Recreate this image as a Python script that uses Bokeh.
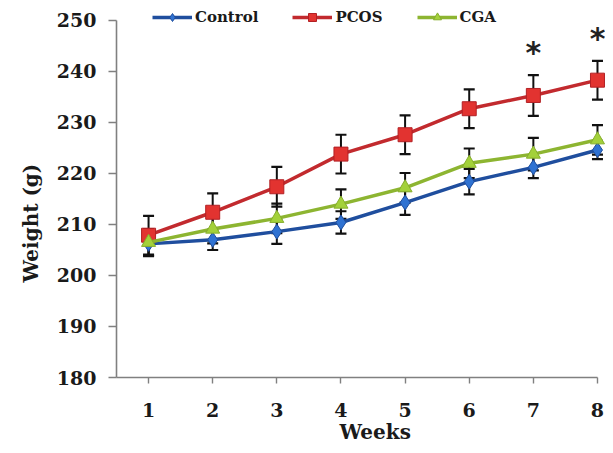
from bokeh.plotting import figure
from bokeh.models import Legend, LegendItem, Label, FixedTicker, Range1d, Title
from bokeh.embed import file_html
from bokeh.resources import INLINE

# ---- data ----
weeks = [1, 2, 3, 4, 5, 6, 7, 8]
control = [206.2, 207.0, 208.6, 210.4, 214.3, 218.4, 221.2, 224.6]
control_err = [2.4, 2.0, 2.4, 2.2, 2.4, 2.5, 2.1, 1.8]
pcos = [207.9, 212.4, 217.4, 223.8, 227.6, 232.7, 235.3, 238.3]
pcos_err = [3.8, 3.7, 3.9, 3.8, 3.8, 3.8, 4.0, 3.8]
cga = [206.5, 209.1, 211.2, 214.0, 217.2, 222.0, 223.8, 226.6]
cga_err = [2.6, 2.8, 2.9, 2.9, 2.9, 2.9, 3.2, 2.9]
star_weeks = [7, 8]
y_ticks = [180, 190, 200, 210, 220, 230, 240, 250]
legend_labels = ["Control", "PCOS", "CGA"]
x_title = "Weeks"
y_title = "Weight (g)"

SERIF = "DejaVu Serif"
TXT = "#1a1a1a"

p = figure(width=605, height=445, output_backend="svg", toolbar_location=None,
           x_range=Range1d(0.5, 8.125), y_range=Range1d(180, 252.35),
           min_border_left=116, min_border_right=0, min_border_top=8,
           min_border_bottom=68)
p.outline_line_color = None
p.grid.visible = False

# main axes
p.xaxis.ticker = FixedTicker(ticks=weeks)
p.yaxis.ticker = FixedTicker(ticks=y_ticks)
p.xaxis.bounds = (0.5, 8.0)
p.yaxis.bounds = (180, 250)
for ax in (p.xaxis, p.yaxis):
    ax.axis_line_color = "#808080"
    ax.axis_line_width = 1.6
    ax.major_tick_line_color = "#808080"
    ax.major_tick_line_width = 1.4
    ax.major_tick_in = 0
    ax.minor_tick_line_color = None
    ax.major_label_text_font = SERIF
    ax.major_label_text_font_style = "bold"
    ax.major_label_text_font_size = "19px"
    ax.major_label_text_color = TXT
p.xaxis.major_tick_out = 6
p.yaxis.major_tick_out = 8
p.xaxis.major_label_standoff = 19
p.yaxis.major_label_standoff = 12

# axis titles, positioned along the axes like the reference
p.add_layout(Title(text=x_title, align="left", offset=223, standoff=0,
                   vertical_align="top", text_font=SERIF, text_font_style="bold",
                   text_font_size="20px", text_color=TXT), "below")
p.add_layout(Title(text=y_title, align="left", offset=95, standoff=17,
                   vertical_align="top", text_font=SERIF, text_font_style="bold",
                   text_font_size="20px", text_color=TXT), "left")

series = [
    (control, control_err, "#1F4E9E", "#2F72D2", "#1F4E9E", "diamond", 15),
    (pcos, pcos_err, "#C22A2E", "#E23330", "#B22024", "square", 14),
    (cga, cga_err, "#8DB531", "#A3D13A", "#86AE2C", "triangle", 14),
]

# error bars (black) first
for vals, errs, *_ in series:
    lo = [v - e for v, e in zip(vals, errs)]
    hi = [v + e for v, e in zip(vals, errs)]
    p.segment(x0=weeks, y0=lo, x1=weeks, y1=hi, line_color="#111111", line_width=2)
    p.scatter(x=weeks, y=lo, marker="dash", size=11, line_color="#111111", line_width=2.2)
    p.scatter(x=weeks, y=hi, marker="dash", size=11, line_color="#111111", line_width=2.2)

items = []
for (vals, errs, lc, fc, mc, mk, sz), lab in zip(series, legend_labels):
    lr = p.line(weeks, vals, line_color=lc, line_width=3.5)
    sr = p.scatter(weeks, vals, marker=mk, size=sz, fill_color=fc, line_color=mc, line_width=1)
    items.append(LegendItem(label=lab, renderers=[lr, sr]))

legend = Legend(items=items, orientation="horizontal", location=(36, 350),
                label_text_font=SERIF, label_text_font_style="bold",
                label_text_font_size="15px", label_text_color=TXT,
                glyph_width=40, glyph_height=20, label_standoff=3, spacing=34,
                padding=0, margin=0, border_line_color=None,
                background_fill_alpha=0)
p.add_layout(legend, "center")

# significance stars above PCOS error bars
for w in star_weeks:
    i = weeks.index(w)
    p.add_layout(Label(x=w, y=pcos[i] + pcos_err[i] + 4.4, text="*",
                       text_font="DejaVu Sans", text_font_style="bold",
                       text_font_size="30px", text_align="center",
                       text_baseline="middle", text_color="#222222"))

open("out.html", "w").write(file_html(p, INLINE))
